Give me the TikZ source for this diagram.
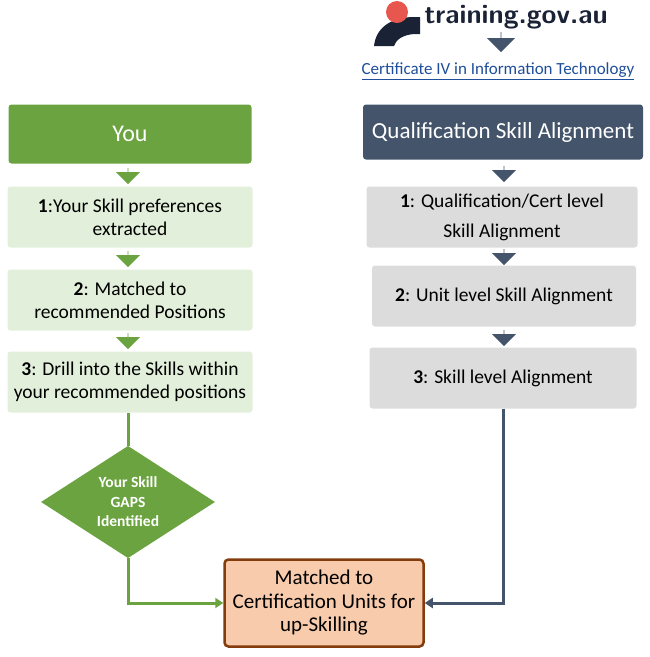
\documentclass[tikz,border=0pt]{standalone}
\usepackage{fontspec}
\setmainfont{Carlito}
\usetikzlibrary{shapes.geometric,shapes.arrows,arrows.meta}
\definecolor{gdark}{HTML}{6AA33F}
\definecolor{glight}{HTML}{E2EFDA}
\definecolor{slate}{HTML}{44546A}
\definecolor{glite}{HTML}{DCDCDC}
\definecolor{peach}{HTML}{F8CBAD}
\definecolor{brown}{HTML}{843C0C}
\definecolor{navy}{HTML}{1A2236}
\definecolor{logored}{HTML}{E8574E}
\definecolor{linkblue}{HTML}{1F4E9A}
\begin{document}
\begin{tikzpicture}[x=1pt,y=-1pt,
  box/.style={rounded corners=3pt,align=center,inner sep=0pt,font=\fontsize{19.5}{23}\selectfont},
  gbox/.style={box,fill=glight,minimum width=245pt,minimum height=61pt},
  sbox/.style={box,fill=glite},
  barrow/.style={single arrow,shape border rotate=270,minimum height=16pt,minimum width=24pt,single arrow head extend=5pt,inner sep=0pt},
  garrow/.style={barrow,fill=gdark},
  sarrow/.style={barrow,fill=slate}]
\useasboundingbox (0,0) rectangle (649,657);
% logo
\fill[navy] (374,46) .. controls (376,28) and (390,18) .. (412,17) -- (420,17) -- (420,34) -- (414,34) .. controls (402,35) and (396,40) .. (394,46) -- cycle;
\fill[logored] (397,12) circle (11);
\node[anchor=west,text=navy,font=\fontsize{27}{30}\selectfont\bfseries\sffamily] (logo) at (421,17) {training.gov.au};
\node[sarrow,minimum height=20pt,minimum width=28pt,single arrow head extend=8pt] (la) at (501,42) {};
\node[text=linkblue,font=\fontsize{17}{19}\selectfont] (link) at (498,71) {\underline{Certificate IV in Information Technology}};
% left column
\node[box,fill=gdark,text=white,minimum width=243pt,minimum height=59pt,font=\fontsize{24}{28}\selectfont] (you) at (130,134) {You};
\node[garrow] (a1) at (128,176) {};
\node[gbox] (l1) at (130,217) {\textbf{1}:Your Skill preferences\\extracted};
\node[garrow] (a2) at (128,259) {};
\node[gbox] (l2) at (130,300) {\textbf{2}: Matched to\\recommended Positions};
\node[garrow] (a3) at (128,341) {};
\node[gbox] (l3) at (130,382) {\textbf{3}: Drill into the Skills within\\your recommended positions};
\node[diamond,fill=gdark,text=white,minimum width=174pt,minimum height=86pt,inner sep=0pt,align=center,font=\fontsize{15.5}{19.5}\selectfont\bfseries] (dia) at (128,502) {Your Skill\\GAPS\\Identified};
% right column
\node[box,fill=slate,text=white,minimum width=280pt,minimum height=55pt,font=\fontsize{23}{27}\selectfont] (qsa) at (503,132) {Qualification Skill Alignment};
\node[sarrow] (b1) at (504,174) {};
\node[sbox,minimum width=271pt,minimum height=61pt,font=\fontsize{19.5}{30}\selectfont] (r1) at (502,217) {\textbf{1}: Qualification/Cert level\\Skill Alignment};
\node[sarrow] (b2) at (504,257) {};
\node[sbox,minimum width=264pt,minimum height=61pt] (r2) at (504,296) {\textbf{2}: Unit level Skill Alignment};
\node[sarrow] (b3) at (504,338) {};
\node[sbox,minimum width=267pt,minimum height=61pt] (r3) at (503,378) {\textbf{3}: Skill level Alignment};
% target
\node[draw=brown,line width=2.5pt,fill=peach,rounded corners=4pt,minimum width=199pt,minimum height=87pt,align=center,inner sep=0pt,font=\fontsize{21}{23.5}\selectfont] (tgt) at (324,603) {Matched to\\Certification Units for\\up-Skilling};
% connectors
\draw[gdark,line width=3pt] (l3.south -| dia.north) -- (dia.north);
\draw[gdark,line width=3pt,-{Triangle[length=8pt,width=10pt]}] (dia.south) |- (tgt.west);
\draw[slate,line width=3pt,-{Triangle[length=8pt,width=10pt]}] (r3.south) |- (tgt.east);
\end{tikzpicture}
\end{document}
